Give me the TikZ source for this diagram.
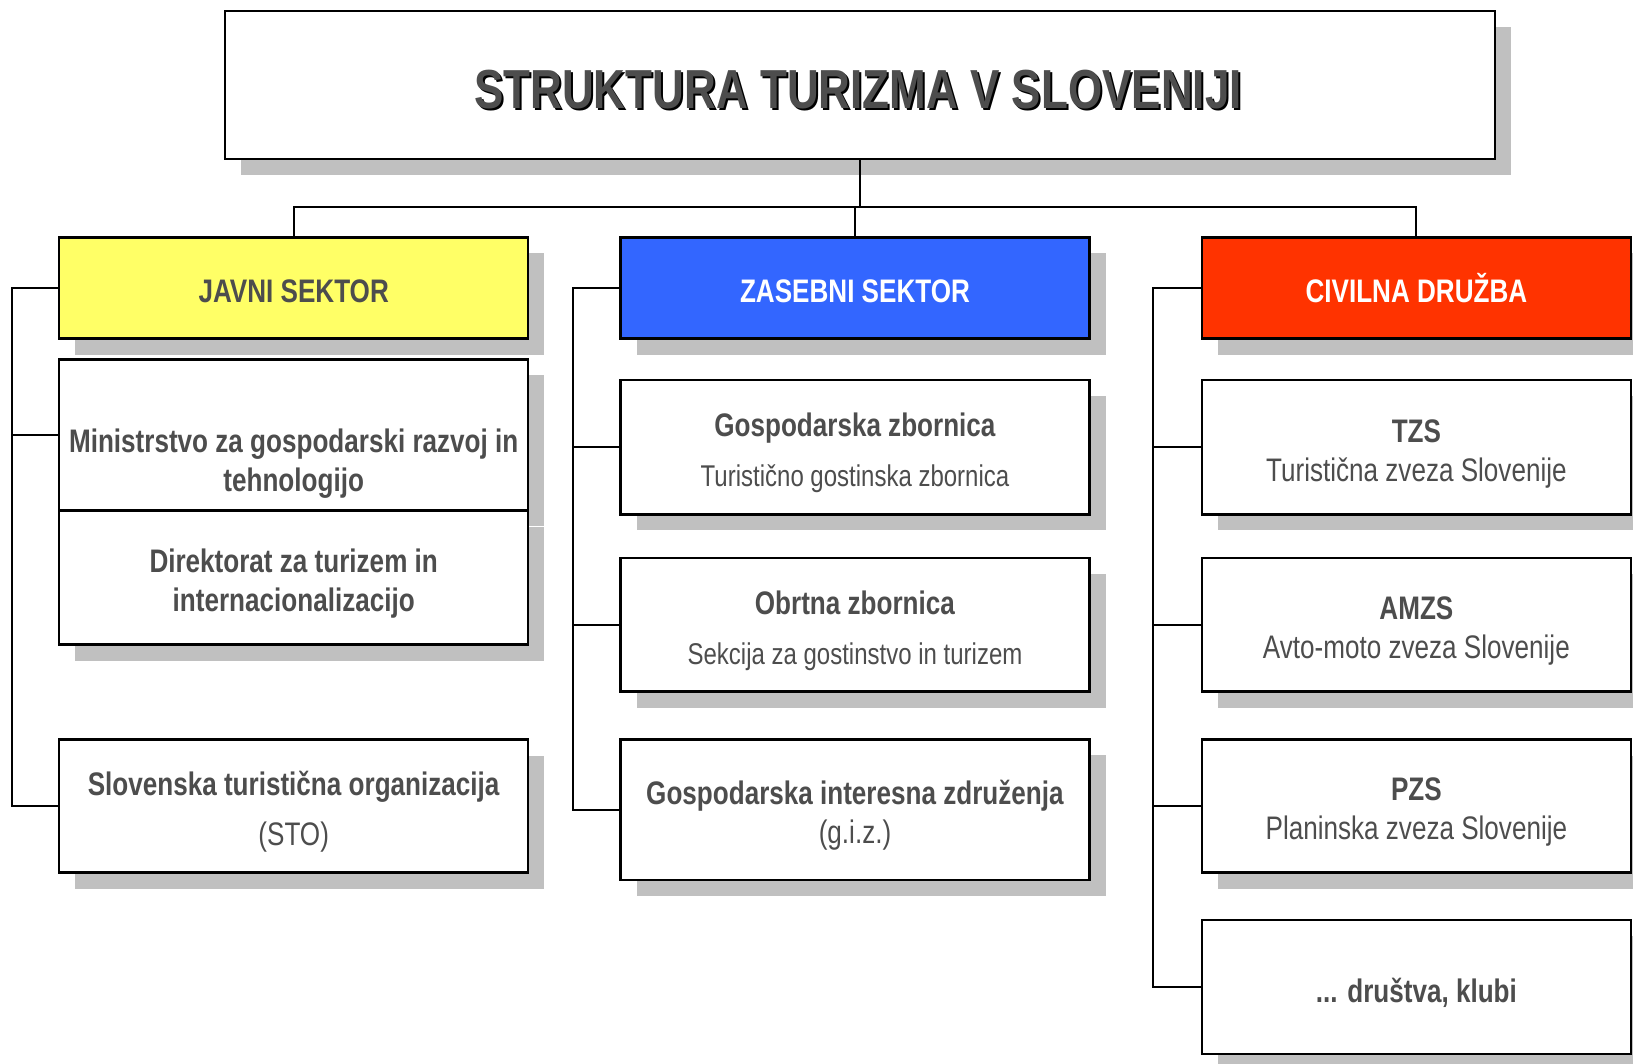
\documentclass[tikz,border=0pt]{standalone}
\usepackage{fontspec}
\setmainfont{Liberation Sans}[FakeStretch=0.8]
\usetikzlibrary{shadows}
\definecolor{txtgray}{HTML}{4D4D4D}
\definecolor{shadowgray}{HTML}{C0C0C0}
\definecolor{javniyellow}{HTML}{FFFF66}
\definecolor{zasebniblue}{HTML}{3366FF}
\definecolor{civilnared}{HTML}{FF3300}
\newcommand\titlefont{\fontsize{27.5pt}{33pt}\selectfont\bfseries}
\newcommand\headfont{\fontsize{16.3pt}{19.5pt}\selectfont\bfseries}
\newcommand\bodyfont{\fontsize{16.3pt}{19.5pt}\selectfont}
\newcommand\subfont{\fontsize{15pt}{18pt}\selectfont}
% struts, da besedilo sede nekoliko nizje v okvirju
\newcommand\titlestrut{\rule{0pt}{25.9pt}}
\newcommand\headstrut{\rule{0pt}{14.5pt}}
\newcommand\bodystrut{\rule{0pt}{17.8pt}}

\begin{document}
\begin{tikzpicture}[x=0.5pt,y=-0.5pt,
        box/.style={draw=black,line width=1.2pt,fill=white,inner sep=0pt,align=center,text=txtgray,font=\bodyfont,
            general shadow={fill=shadowgray,shadow xshift=8pt,shadow yshift=-8pt}},
        widebox/.style={box,minimum width=234.5pt},
        narrowbox/.style={box,minimum width=214.5pt},
        link/.style={line width=1pt}]
                \useasboundingbox (0, 0) rectangle (1633, 1064);
                \node[box,minimum width=635pt,minimum height=74pt,font=\titlefont,text=black,
                    label={[font=\titlefont,text=txtgray,xshift=-1pt,yshift=1pt]center:\titlestrut STRUKTURA TURIZMA V SLOVENIJI}](title)at(860, 85){\titlestrut STRUKTURA TURIZMA V SLOVENIJI};
                % sektorji
                \node[widebox,minimum height=50.5pt,fill=javniyellow,font=\headfont](javni)at(293.7, 288){\headstrut JAVNI SEKTOR};
                \node[widebox,minimum height=50.5pt,fill=zasebniblue,text=white,font=\headfont](zasebni)at(855, 288){\headstrut ZASEBNI SEKTOR};
                \node[narrowbox,minimum height=50.5pt,fill=civilnared,text=white,font=\headfont](civilna)at(1416.4, 288){\headstrut CIVILNA DRUŽBA};
                % javni sektor
                \node[widebox,minimum height=75.5pt,
                    label={[font=\bodyfont\bfseries,text=txtgray,align=center,yshift=-14.6pt]center:{Ministrstvo za gospodarski razvoj in\\tehnologijo}}](ministrstvo)at(293.7, 434.8){};
                \node[widebox,minimum height=67pt,font=\bodyfont\bfseries](direktorat)at(293.7, 577.5){\bodystrut Direktorat za turizem in\\internacionalizacijo};
                \node[widebox,minimum height=66.5pt](sto)at(293.7, 806){\bodystrut\textbf{Slovenska turistična organizacija}\\[5.5pt](STO)};
                % zasebni sektor
                \node[widebox,minimum height=67.25pt](gz)at(855, 447.2){\bodystrut\textbf{Gospodarska zbornica}\\[5.5pt]{\subfont Turistično gostinska zbornica}};
                \node[widebox,minimum height=66.75pt](oz)at(855, 624.8){\bodystrut\textbf{Obrtna zbornica}\\[5.5pt]{\subfont Sekcija za gostinstvo in turizem}};
                \node[widebox,minimum height=70.3pt](giz)at(855, 809.7){\bodystrut\textbf{Gospodarska interesna združenja}\\(g.i.z.)};
                % civilna druzba
                \node[narrowbox,minimum height=67.25pt](tzs)at(1416.4, 447.2){\bodystrut\textbf{TZS}\\Turistična zveza Slovenije};
                \node[narrowbox,minimum height=66.75pt](amzs)at(1416.4, 624.8){\bodystrut\textbf{AMZS}\\Avto-moto zveza Slovenije};
                \node[narrowbox,minimum height=66.5pt](pzs)at(1416.4, 806){\bodystrut\textbf{PZS}\\Planinska zveza Slovenije};
                \node[narrowbox,minimum height=67pt,font=\bodyfont\bfseries](drustva)at(1416.4, 986.8){\bodystrut ... društva, klubi};
                % povezave
                \coordinate (bar) at (860, 207);
                \coordinate (jrail) at (11.5, 0);
                \coordinate (zrail) at (572.8, 0);
                \coordinate (crail) at (1152.8, 0);
                \draw[link] (title.south) -- (bar);
                \draw[link] (javni.north) |- (bar) -| (civilna.north);
                \draw[link] (zasebni.north) -- (zasebni.north |- bar);
                \draw[link] (javni.west) -| (jrail |- sto.west) -- (sto.west);
                \draw[link] (ministrstvo.west) -- (ministrstvo.west -| jrail);
                \draw[link] (zasebni.west) -| (zrail |- giz.west) -- (giz.west);
                \draw[link] (gz.west) -- (gz.west -| zrail);
                \draw[link] (oz.west) -- (oz.west -| zrail);
                \draw[link] (civilna.west) -| (crail |- drustva.west) -- (drustva.west);
                \draw[link] (tzs.west) -- (tzs.west -| crail);
                \draw[link] (amzs.west) -- (amzs.west -| crail);
                \draw[link] (pzs.west) -- (pzs.west -| crail);
\end{tikzpicture}
\end{document}
